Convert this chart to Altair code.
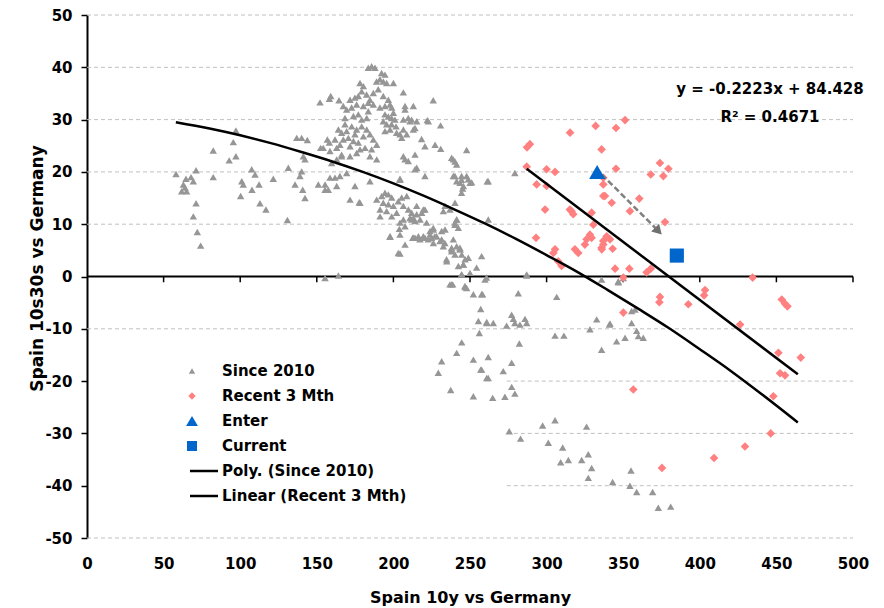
import altair as alt
import pandas as pd

FONT = "DejaVu Sans"

# ---- Since 2010 (grey triangles) ----
gray_x = [58.1,64.6,67.9,71.2,62.9,64,65,61.8,69.4,71.2,69.4,72,74.2,82.4,82.4,92.8,97.2,95.5,97.2,107.5,109.7,101,102,107.7,112.3,100.3,112.9,116.8,121.6,
          130.8,131.4,136.9,140.1,143.8,141.2,142.3,139,140.1,135.8,140.8,142.3,152.1,158.2,159.1,164.5,152.5,154.2,156.9,158.2,151,155.4,155.4,157.5,158.6,161.9,165.1,163,171.7,177.7,174.9,159.7,163,166.2,
          183.6,185.8,188,192.3,194.5,191.2,189,193.4,195.6,200,206.5,226,178.2,180.4,179.3,182.5,177.1,174.9,171.7,184.7,186.9,190.1,
          167.3,169.5,172.7,176,180.4,183.6,186.9,193.4,196.7,197.8,194.5,191.2,
          194.5,196.7,198.8,201,193.4,195.6,198.8,201.7,197.8,194.5,202.1,
          206.5,209.7,207.6,210.8,215.2,206.5,204.3,208.7,213,207.6,213,222.1,230.8,218.4,220.6,227.2,230.9,238,240.2,241.3,
          239.1,241.3,244.5,243.5,245.2,244.5,247.8,
          168.4,169.5,172.8,166.2,174.9,170.6,167.3,173.9,177.1,165.1,171.7,180.4,182.6,184.7,186.9,189.1,185.8,181.5,178.2,176,171.7,166.2,163,161.9,164.1,168.4,173.9,179.3,177.1,182.6,183.6,179.3,176,184.7,189.1,158.6,
          198.9,200,211.9,214.1,205.4,222.8,206.5,207.6,209.7,214.1,215.2,220.6,204.3,239.1,240.2,248.9,251.1,245.7,261.3,247.8,
          189.1,192.4,194.5,196.7,198.9,193.4,196.7,200,203.2,205.4,208.7,206.5,209.8,211.9,215.2,218.5,220.6,215.2,210.8,214.1,217.4,202.1,198.9,204.3,207.6,221.7,226.1,223.9,228.2,231.5,233.7,219.5,222.8,226.1,230.4,232.6,238,241.3,243.5,240.2,241.3,236.9,233.7,240.2,204.3,207.6,203.2,216.3,213,197.8,191.3,184.7,178.2,
          169.5,204.3,191.3,195.6,206.5,211.9,203.9,197.8,212.6,155.4,164.1,
          214.1,244.5,250,261.9,279.3,232.6,219.5,213,241.3,240.2,242.4,261.9,226,223.9,227.1,224.9,220.6,217.3,214.1,231.5,233.6,239.1,238,243.4,234.7,245.6,248.9,257.6,254.3,250,260.8,244.5,236.9,246.7,287,335.9,
          204.3,234.8,238,243.5,245.7,244.6,238.7,246.8,252.2,257.6,257,255.5,260.9,256.1,244.6,241.3,231.5,229.3,252.2,257,260.9,237.4,252.2,
          287,259.8,306.6,281.5,258.2,277.2,278.3,285.9,279.3,273.9,282.6,287,265.2,260.9,305.5,311.3,282.2,332.7,341.4,355.5,328.3,358.8,359.9,363.1,351.2,345.7,335.9,357.7,355.5,346.8,
          261.9,257.6,261.9,271.7,277.2,264.8,272.8,277.2,279.3,275.6,283,297.4,305.5,326.1,301.1,310.5,309.2,314.2,322.9,327.2,329.4,327.2,343.1,355.1,354.4,358.8,369.2,372.9,381,
          346.8,350.1,341,244.6,240.2,246.8,242.4,238,247.8]
gray_y = [19.6,18.7,19.0,20.3,17.6,17,16.3,16.3,18.2,14,11.5,8.5,5.9,24.1,19.0,22.2,23.0,25.7,27.9,20.5,19.5,18.2,17.6,16.6,17.6,15.4,14,12.8,18.7,
          10.8,20.8,26.5,26.5,26.1,23.0,22.4,19.2,20.1,17.6,16.6,15.0,33.3,34.0,34.5,33.7,24.6,24.6,26.2,25.6,17.6,17.6,16.6,16.6,18.9,18.9,19.2,17.3,14.7,14.2,17.3,21.7,22.4,23.0,
          39.9,40.2,39.9,38.9,38.6,37.7,37.3,37.3,37.0,37,35.2,33.7,37.0,36.4,35.4,34.8,34.5,34.2,33.8,33.8,35.1,35.8,
          32.6,31.9,32.3,32.9,32.6,33.2,32.9,34.5,33.8,32.9,32.6,32.3,
          31.0,30.6,30.3,30,29.7,29.1,29.1,28.7,28.1,27.8,27.5,
          30,30.3,31.9,29.7,29.7,28.1,27.2,27.2,28.1,32.6,32.6,29.9,28.9,26.3,24.9,25.2,24.4,22.7,22.0,21.4,
          19.2,18.2,19.2,17.9,16.8,16.0,19.2,
          29.1,27.8,28.7,27.5,27.2,26.5,26.2,25.9,25.6,25.2,24.9,26.8,28.1,27.2,26.2,25.2,24.3,24.6,24.3,23.6,23.0,23.3,24.6,26.2,28.1,30.3,30.7,30.0,31.0,30.3,31.6,28.7,28.1,23.0,22.4,24.0,
          32.3,31.3,30.0,28.4,26.5,29.7,23.0,22.4,22.1,23.3,20.8,19.2,18.7,22.4,19.2,18.6,18.0,17.3,18.2,24.2,
          14.7,15.4,16.0,15.7,15.1,14.1,13.8,13.5,14.4,15.1,15.4,13.5,12.8,12.2,11.9,12.2,12.8,13.5,11.2,10.6,10.9,12.2,11.5,10.3,9.6,10.3,9.0,8.0,7.7,8.7,9.0,7.7,7.1,6.4,6.8,5.8,5.5,5.8,5.2,10.3,10.9,12.8,13.5,14.1,8.0,6.1,4.5,7.7,7.4,7.7,11.5,18.2,14.1,
          19.8,18.5,12.8,12.5,10.9,10.9,9.1,7.6,7.4,-0.3,0.2,
          20.5,18.5,17.9,18.2,19.8,12.5,12.8,11.2,10.9,9.9,9.3,10.9,9.3,8.7,7.7,7.4,7.4,7.1,7.4,7.1,6.4,7.1,5.2,5.5,3.3,2.3,3.6,3.9,1.7,0.7,-0.2,0.4,-1.5,-1.8,0.4,-0.6,
          4.4,2.9,4.8,5.2,2.3,0.4,-1.5,-2.0,-3.4,-3.4,-6.2,-8.5,-8.7,-10.8,-12.6,-14.6,-16.2,-18.4,-15.9,-17.8,-19.4,-21.7,-22.9,
          0.2,-0.6,-3.9,-3.2,-3.4,-7.3,-8.1,-8.1,-8.9,-9.4,-9.2,-8.9,-8.9,-8.9,-11.3,-11.3,-12.8,-8.2,-9.0,-8.9,-10.1,-10.4,-11.4,-11.7,-11.7,-12.4,-14.0,-6.3,-6.6,-1.1,
          -15.4,-17.8,-19.4,-18.1,-16.5,-23.2,-23.0,-21.1,-22.4,-29.6,-31.0,-28.5,-27.5,-28.7,-31.8,-32.7,-35.5,-35.1,-35.1,-34.0,-36.6,-38.5,-39.3,-37.1,-40.0,-41.2,-41.2,-44.2,-44.0,
          -0.9,-0.3,-9.2,4.2,4.2,3.3,2.0,-1.5,-2.2]

# ---- Recent 3 Mth (pink diamonds) ----
pink_x = [287.2,289.1,287,315.3,332,345.3,351.2,335.9,345.3,374,379.5,368,376.2,337,338.1,342.5,360.5,354.4,377.3,337,341.4,343.1,336,
          344.7,354,350.1,365.3,368,434.5,403.4,402.8,374,373.6,392.5,453.5,455.6,457.2,350.1,426.3,451.3,465.9,452.4,455.6,356.6,448,446.3,429.5,409.3,375.3,
          300,305.5,293.5,300,299,315.2,317.4,316.3,329.4,330.5,328.3,326.1,325,329.4,335.9,337,339.2,293.1,305.5,304.4,307.6,309.8,318.5,320.7,337,337]
pink_y = [24.7,25.3,21.0,27.5,28.8,28.4,29.9,24.3,20.6,21.7,20.6,19.5,19.2,17.6,15.4,14.1,14.9,12.5,10.4,6.1,7.1,5.3,5.2,
          1.5,1.5,-0.2,0.8,1.5,-0.2,-2.6,-3.6,-3.9,-4.9,-5.3,-4.4,-5.2,-5.7,-6.9,-9.2,-14.6,-15.5,-18.5,-18.9,-21.6,-22.9,-30.0,-32.5,-34.7,-36.6,
          20.5,20.0,17.6,17.3,12.8,12.8,11.9,12.5,12.2,9.9,8.0,7.1,6.1,7.4,5.5,6.8,7.7,7.4,5.2,4.5,2.9,2.0,5.2,4.5,18.9,15.4]

enter_x, enter_y = [333], [20]
current_x, current_y = [385], [4]

# trendlines
poly_x = [58, 80, 100, 120, 140, 160, 180, 200, 220, 240, 260, 280, 300, 320, 340, 360, 380, 400, 420, 440, 464]
poly_y = [29.5, 28.3, 27.0, 25.5, 23.8, 22.0, 20.0, 17.8, 15.4, 12.8, 10.1, 7.2, 4.1, 0.9, -2.6, -6.2, -9.9, -13.9, -18.0, -22.4, -27.9]
lin_x = [287, 464]
lin_y = [20.6, -18.7]

arrow_from = [336, 19.5]
arrow_to = [373, 8.7]

grid_levels = [-50, -40, -30, -20, -10, 10, 20, 30, 40, 50]
grid_start = [0, 274, 274, 274, 0, 0, 0, 0, 0, 0]
x_ticks = list(range(0, 501, 50))
y_ticks = list(range(-50, 51, 10))

legend_labels = ["Since 2010", "Recent 3 Mth", "Enter", "Current", "Poly. (Since 2010)", "Linear (Recent 3 Mth)"]
eq_text = ["y = -0.2223x + 84.428", "R\u00b2 = 0.4671"]

W, H = 766, 523
xs = alt.Scale(domain=[0, 500], nice=False, zero=False)
ys = alt.Scale(domain=[-50, 50], nice=False, zero=False)

xaxis = alt.Axis(title="Spain 10y vs Germany", values=x_ticks, domain=False, ticks=False, grid=False,
                 labelExpr="'' + datum.value",
                 labelFont=FONT, labelFontSize=15, labelFontWeight="bold", labelColor="black",
                 labelPadding=18, labelFlush=False, labelOverlap=False,
                 titleFont=FONT, titleFontSize=16, titleFontWeight="bold", titleColor="black",
                 titleX=383, titleY=59, titleBaseline="middle", titleAlign="center")
yaxis = alt.Axis(title="Spain 10s30s vs Germany", values=y_ticks, domain=True, domainColor="black", domainWidth=2,
                 ticks=True, tickColor="black", tickSize=6, tickWidth=1.5, grid=False,
                 labelExpr="'' + datum.value",
                 labelFont=FONT, labelFontSize=15, labelFontWeight="bold", labelColor="black",
                 labelPadding=9, labelFlush=False, labelOverlap=False,
                 titleFont=FONT, titleFontSize=17, titleFontWeight="bold", titleColor="black",
                 titleX=-50, titleY=253, titleAngle=-90, titleBaseline="middle", titleAlign="center")


def X(f):
    return alt.X(f, type="quantitative", scale=xs, axis=xaxis)


def Y(f):
    return alt.Y(f, type="quantitative", scale=ys, axis=yaxis)


grid_df = pd.DataFrame({"gy": grid_levels, "gx0": grid_start, "gx1": [500] * len(grid_levels)})
grid = alt.Chart(grid_df).mark_rule(color="#c0c0c0", strokeDash=[4, 3], strokeWidth=1).encode(
    x=X("gx0"), x2="gx1", y=Y("gy"))

zero_df = pd.DataFrame({"a": [0], "b": [500], "z": [0]})
zero_line = alt.Chart(zero_df).mark_rule(color="black", strokeWidth=2).encode(x=X("a"), x2="b", y=Y("z"))

tick_df = pd.DataFrame({"t": x_ticks[1:], "y0": [0] * (len(x_ticks) - 1), "y1": [-1.1] * (len(x_ticks) - 1)})
xticks = alt.Chart(tick_df).mark_rule(color="black", strokeWidth=1.5).encode(x=X("t"), y=Y("y0"), y2="y1")

gray = alt.Chart(pd.DataFrame({"x": gray_x, "y": gray_y})).mark_point(
    shape="triangle-up", filled=True, size=55, color="#969696", opacity=1).encode(x=X("x"), y=Y("y"))
pink = alt.Chart(pd.DataFrame({"x": pink_x, "y": pink_y})).mark_point(
    shape="diamond", filled=True, size=75, color="#FF8080", opacity=1).encode(x=X("x"), y=Y("y"))

poly = alt.Chart(pd.DataFrame({"x": poly_x, "y": poly_y})).mark_line(
    color="black", strokeWidth=2.5, interpolate="monotone").encode(x=X("x"), y=Y("y"))
lin = alt.Chart(pd.DataFrame({"x": lin_x, "y": lin_y})).mark_line(
    color="black", strokeWidth=2.5).encode(x=X("x"), y=Y("y"))

arrow_df = pd.DataFrame({"x": [arrow_from[0]], "y": [arrow_from[1]], "x2": [arrow_to[0]], "y2": [arrow_to[1]]})
arrow_line = alt.Chart(arrow_df).mark_rule(color="#808080", strokeWidth=2.5, strokeDash=[6, 3]).encode(
    x=X("x"), y=Y("y"), x2="x2", y2="y2")
arrow_head = alt.Chart(pd.DataFrame({"x": [arrow_to[0]], "y": [arrow_to[1]]})).mark_point(
    shape="triangle-up", filled=True, size=120, angle=136, color="#707070", opacity=1).encode(x=X("x"), y=Y("y"))

enter = alt.Chart(pd.DataFrame({"x": enter_x, "y": enter_y})).mark_point(
    shape="triangle-up", filled=True, size=260, color="#0066CC", opacity=1).encode(x=X("x"), y=Y("y"))
current = alt.Chart(pd.DataFrame({"x": current_x, "y": current_y})).mark_point(
    shape="square", filled=True, size=200, color="#0066CC", opacity=1).encode(x=X("x"), y=Y("y"))

# equation annotation
eq_layers = []
for i, t in enumerate(eq_text):
    eq_layers.append(alt.Chart(pd.DataFrame({"t": [t]})).mark_text(
        font=FONT, fontSize=15, fontWeight="bold", color="black", align="center", baseline="middle").encode(
        x=alt.value(683), y=alt.value(74 + 28 * i), text="t:N"))

# manual legend
leg_layers = []
row_y = [356 + 25 * i for i in range(len(legend_labels))]
sym_specs = [("triangle-up", "#969696", 40), ("diamond", "#FF8080", 55), ("triangle-up", "#0066CC", 140), ("square", "#0066CC", 100)]
for i, lab in enumerate(legend_labels):
    d = pd.DataFrame({"t": [lab]})
    leg_layers.append(alt.Chart(d).mark_text(
        font=FONT, fontSize=15, fontWeight="bold", color="black", align="left", baseline="middle").encode(
        x=alt.value(135), y=alt.value(row_y[i]), text="t:N"))
    if i < 4:
        shp, col, sz = sym_specs[i]
        leg_layers.append(alt.Chart(d).mark_point(shape=shp, filled=True, size=sz, color=col, opacity=1).encode(
            x=alt.value(105), y=alt.value(row_y[i])))
    else:
        leg_layers.append(alt.Chart(d).mark_rule(color="black", strokeWidth=2.5).encode(
            x=alt.value(103), x2=alt.value(131), y=alt.value(row_y[i])))

chart = alt.layer(grid, zero_line, xticks, gray, pink, poly, lin, arrow_line, arrow_head, enter, current,
                  *eq_layers, *leg_layers).properties(
    width=W, height=H,
    autosize=alt.AutoSizeParams(type="none"),
    padding={"left": 87, "top": 15, "right": 31, "bottom": 70},
).configure_view(stroke=None)

chart.save("out.html", embed_options={"renderer": "svg", "actions": False})
